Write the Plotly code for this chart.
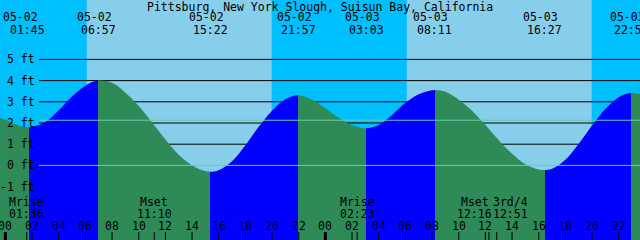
import plotly.graph_objects as go

# ---------------- data ----------------
title_text = "Pittsburg, New York Slough, Suisun Bay, California"

# tide curve samples (hours from 05-02 00:00, feet)
curve_hours = [-0.4, 0, 1, 1.75, 3, 4, 5, 6, 6.95, 8, 9, 10, 11, 12, 13, 14, 15,
               15.37, 16, 17, 18, 19, 20, 21, 21.95, 23, 24, 25, 26, 27.05, 28,
               29, 30, 31, 32.18, 33, 34, 35, 36, 37, 38, 39, 40, 40.45, 41, 42,
               43, 44, 45, 46, 46.93, 47.6]
curve_ft = [2.24, 2.15, 1.88, 1.80, 2.05, 2.60, 3.25, 3.76, 4.00, 3.90, 3.43,
            2.80, 2.02, 1.22, 0.50, 0.00, -0.27, -0.30, -0.23, 0.20, 0.95, 1.82,
            2.58, 3.12, 3.31, 3.10, 2.70, 2.25, 1.90, 1.75, 1.90, 2.38, 2.95,
            3.36, 3.56, 3.47, 3.10, 2.58, 1.90, 1.19, 0.55, 0.06, -0.19, -0.22,
            -0.16, 0.27, 1.02, 1.88, 2.66, 3.22, 3.43, 3.37]

# tide extrema (low first)
tide_dates = ["05-02", "05-02", "05-02", "05-02", "05-03", "05-03", "05-03", "05-03"]
tide_times = ["01:45", "06:57", "15:22", "21:57", "03:03", "08:11", "16:27", "22:56"]
tide_kinds = ["low", "high", "low", "high", "low", "high", "low", "high"]

# sun events
sun_dates = ["05-02", "05-02", "05-03", "05-03"]
sun_times = ["06:06", "19:58", "06:06", "19:58"]
sun_kinds = ["rise", "set", "rise", "set"]

# moon events
moon_dates = ["05-02", "05-02", "05-03", "05-03", "05-03"]
moon_times = ["01:36", "11:10", "02:23", "12:16", "12:51"]
moon_names = ["Mrise", "Mset", "Mrise", "Mset", "3rd/4"]

# axis labels
ft_levels = [5, 4, 3, 2, 1, 0, -1]
ft_labels = ["5 ft", "4 ft", "3 ft", "2 ft", "1 ft", "0 ft", "-1 ft"]
msl_ft = 2.13
hour_ticks = list(range(0, 49, 2))
hour_labels = ["%02d" % (h % 24) for h in hour_ticks]

# ---------------- style ----------------
W, H = 640, 240
PX_PER_H = 13.333
X0_PX = 5.4
x_min = -X0_PX / PX_PER_H
x_max = x_min + W / PX_PER_H
ZERO_PX = 165.4
PX_PER_FT = 21.2
y_max = ZERO_PX / PX_PER_FT
y_min = -(H - ZERO_PX) / PX_PER_FT

DAY = "#87CEEB"
NIGHT = "#00BFFF"
FLOOD = "#0000FF"
EBB = "#2E8B57"
DATUM = "#66CDAA"
FONT = dict(family="DejaVu Sans Mono", size=11.5, color="black")

date_shift = [-8, -4, -4, -4, -4, -4, -4, -4]
time_shift = [-1.5, 0, 0, 0, 0, 0, 0, 0]
moon_shift = [0, 0, 0, -14, 14]


def to_hours(date, tm):
    day = int(date.split("-")[1])
    hh, mm = tm.split(":")
    return (day - 2) * 24 + int(hh) + int(mm) / 60.0


def py(px):
    """pixel row -> paper y"""
    return 1 - px / H


def pxx(px):
    return px / W


tide_h = [to_hours(d, t) for d, t in zip(tide_dates, tide_times)]
sun_h = [to_hours(d, t) for d, t in zip(sun_dates, sun_times)]
moon_h = [to_hours(d, t) for d, t in zip(moon_dates, moon_times)]

fig = go.Figure()

# fill colours switch at each extremum: after low -> flood, after high -> ebb
span = x_max - x_min
stops = []
cur = EBB if tide_kinds[0] == "low" else FLOOD
stops.append([0.0, cur])
for h, k in zip(tide_h, tide_kinds):
    p = (h - x_min) / span
    p = min(max(p, 0.0), 1.0)
    stops.append([p, cur])
    cur = FLOOD if k == "low" else EBB
    stops.append([p, cur])
stops.append([1.0, cur])

# baseline then tide curve filled down to it
fig.add_trace(go.Scatter(x=[x_min, x_max], y=[y_min - 1, y_min - 1], mode="lines",
                         line=dict(width=0, color="rgba(0,0,0,0)"),
                         hoverinfo="skip", showlegend=False))
fig.add_trace(go.Scatter(x=curve_hours, y=curve_ft, mode="lines",
                         line=dict(width=0, shape="spline", smoothing=1.0,
                                   color="rgba(0,0,0,0)"),
                         fill="tonexty",
                         fillgradient=dict(type="horizontal", start=x_min, stop=x_max,
                                           colorscale=stops),
                         hoverinfo="skip", showlegend=False))

shapes = []
# sky: night everywhere, day between sunrise/sunset
shapes.append(dict(type="rect", xref="paper", yref="paper", x0=0, x1=1, y0=0, y1=1,
                   fillcolor=NIGHT, line=dict(width=0), layer="below"))
rise = None
for h, k in zip(sun_h, sun_kinds):
    if k == "rise":
        rise = h
    elif rise is not None:
        shapes.append(dict(type="rect", xref="x", yref="paper", x0=rise, x1=h,
                           y0=0, y1=1, fillcolor=DAY, line=dict(width=0),
                           layer="below"))
        rise = None

# foot lines behind the water
for lv in ft_levels:
    if lv == 0:
        continue
    shapes.append(dict(type="line", xref="paper", yref="y", x0=pxx(39), x1=1,
                       y0=lv, y1=lv, line=dict(color="black", width=1),
                       layer="below"))

# datum and mean sea level over the water
shapes.append(dict(type="line", xref="paper", yref="y", x0=pxx(39), x1=1, y0=0, y1=0,
                   line=dict(color=DATUM, width=1), layer="above"))
shapes.append(dict(type="line", xref="paper", yref="y", x0=pxx(39), x1=1,
                   y0=msl_ft, y1=msl_ft, line=dict(color=DATUM, width=1),
                   layer="above"))

# hour ticks
for h in hour_ticks:
    w = 3 if h % 24 == 0 else 1
    shapes.append(dict(type="line", xref="x", yref="paper", x0=h, x1=h,
                       y0=0, y1=py(232), line=dict(color="black", width=w),
                       layer="above"))
for h in moon_h:
    shapes.append(dict(type="line", xref="x", yref="paper", x0=h, x1=h,
                       y0=0, y1=py(232), line=dict(color="black", width=1),
                       layer="above"))

ann = []
ann.append(dict(text=title_text, xref="paper", yref="paper", x=0.5, y=py(6.5),
                xanchor="center", yanchor="middle", showarrow=False, font=FONT))
for h, d, t, ds, ts in zip(tide_h, tide_dates, tide_times, date_shift, time_shift):
    ann.append(dict(text=d, xref="x", yref="paper", x=h, y=py(17.5), xshift=ds,
                    xanchor="center", yanchor="middle", showarrow=False, font=FONT))
    ann.append(dict(text=t, xref="x", yref="paper", x=h, y=py(29.5), xshift=ts,
                    xanchor="center", yanchor="middle", showarrow=False, font=FONT))
for lv, lb in zip(ft_levels, ft_labels):
    ann.append(dict(text=lb, xref="paper", yref="y", x=pxx(36.5), y=lv,
                    xanchor="right", yanchor="middle", showarrow=False, font=FONT))
# moon labels (last two crowd each other and are pushed apart)
for h, n, t, s in zip(moon_h, moon_names, moon_times, moon_shift):
    ann.append(dict(text=n, xref="x", yref="paper", x=h, y=py(202), xshift=s,
                    xanchor="center", yanchor="middle", showarrow=False, font=FONT))
    ann.append(dict(text=t, xref="x", yref="paper", x=h, y=py(214), xshift=s,
                    xanchor="center", yanchor="middle", showarrow=False, font=FONT))
for h, lb in zip(hour_ticks, hour_labels):
    ann.append(dict(text=lb, xref="x", yref="paper", x=h, y=py(225.5),
                    xanchor="center", yanchor="middle", showarrow=False, font=FONT))

fig.update_layout(
    width=W, height=H, margin=dict(l=0, r=0, t=0, b=0, pad=0),
    paper_bgcolor="white", plot_bgcolor=NIGHT,
    xaxis=dict(range=[x_min, x_max], visible=False, fixedrange=True),
    yaxis=dict(range=[y_min, y_max], visible=False, fixedrange=True),
    shapes=shapes, annotations=ann, showlegend=False,
)

fig.write_html("out.html")
